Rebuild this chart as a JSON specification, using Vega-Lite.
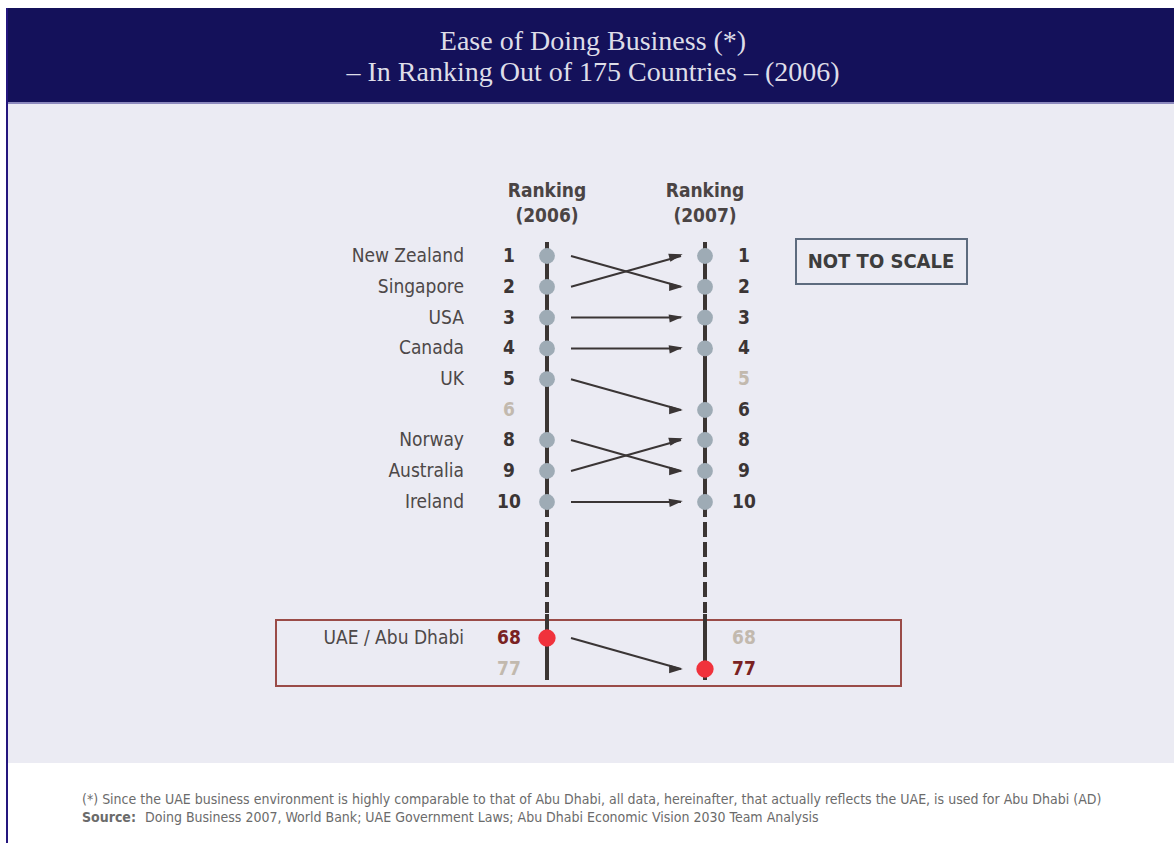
{
  "$schema": "https://vega.github.io/schema/vega-lite/v6.json",
  "width": 1174,
  "height": 843,
  "autosize": {"type": "none"},
  "padding": 0,
  "background": "#ffffff",
  "view": {"stroke": null},
  "config": {"font": "DejaVu Sans Condensed, DejaVu Sans, sans-serif"},
  "resolve": {"scale": {"color": "independent", "size": "independent"}},
  "datasets": {
    "ranks": [
      {"country": "New Zealand", "year": 2006, "rank": 1, "group": "Top 10"},
      {"country": "Singapore", "year": 2006, "rank": 2, "group": "Top 10"},
      {"country": "USA", "year": 2006, "rank": 3, "group": "Top 10"},
      {"country": "Canada", "year": 2006, "rank": 4, "group": "Top 10"},
      {"country": "UK", "year": 2006, "rank": 5, "group": "Top 10"},
      {"country": "", "year": 2006, "rank": 6, "group": "Other"},
      {"country": "Norway", "year": 2006, "rank": 8, "group": "Top 10"},
      {"country": "Australia", "year": 2006, "rank": 9, "group": "Top 10"},
      {"country": "Ireland", "year": 2006, "rank": 10, "group": "Top 10"},
      {"country": "UAE / Abu Dhabi", "year": 2006, "rank": 68, "group": "UAE"},
      {"country": "", "year": 2006, "rank": 77, "group": "Other"},
      {"country": "Singapore", "year": 2007, "rank": 1, "group": "Top 10"},
      {"country": "New Zealand", "year": 2007, "rank": 2, "group": "Top 10"},
      {"country": "USA", "year": 2007, "rank": 3, "group": "Top 10"},
      {"country": "Canada", "year": 2007, "rank": 4, "group": "Top 10"},
      {"country": "", "year": 2007, "rank": 5, "group": "Other"},
      {"country": "UK", "year": 2007, "rank": 6, "group": "Top 10"},
      {"country": "Australia", "year": 2007, "rank": 8, "group": "Top 10"},
      {"country": "Norway", "year": 2007, "rank": 9, "group": "Top 10"},
      {"country": "Ireland", "year": 2007, "rank": 10, "group": "Top 10"},
      {"country": "", "year": 2007, "rank": 68, "group": "Other"},
      {"country": "UAE / Abu Dhabi", "year": 2007, "rank": 77, "group": "UAE"}
    ],
    "moves": [
      {"country": "New Zealand", "r2006": 1, "r2007": 2},
      {"country": "Singapore", "r2006": 2, "r2007": 1},
      {"country": "USA", "r2006": 3, "r2007": 3},
      {"country": "Canada", "r2006": 4, "r2007": 4},
      {"country": "UK", "r2006": 5, "r2007": 6},
      {"country": "Norway", "r2006": 8, "r2007": 9},
      {"country": "Australia", "r2006": 9, "r2007": 8},
      {"country": "Ireland", "r2006": 10, "r2007": 10},
      {"country": "UAE / Abu Dhabi", "r2006": 68, "r2007": 77}
    ],
    "columns": [
      {"year": 2006, "head": "Ranking", "sub": "(2006)"},
      {"year": 2007, "head": "Ranking", "sub": "(2007)"}
    ],
    "one": [{}]
  },
  "layer": [
    {
      "data": {"name": "one"},
      "mark": {"type": "rect", "fill": "#ebebf3"},
      "encoding": {"x": {"value": 7}, "x2": {"value": 1174}, "y": {"value": 102}, "y2": {"value": 763}}
    },
    {
      "data": {"name": "one"},
      "mark": {"type": "rect", "fill": "#14115a"},
      "encoding": {"x": {"value": 6}, "x2": {"value": 1174}, "y": {"value": 8}, "y2": {"value": 102}}
    },
    {
      "data": {"name": "one"},
      "mark": {"type": "rule", "stroke": "#8c89bd", "strokeWidth": 2},
      "encoding": {"x": {"value": 6}, "x2": {"value": 1174}, "y": {"value": 103}}
    },
    {
      "data": {"name": "one"},
      "mark": {"type": "rule", "stroke": "#24167e", "strokeWidth": 2},
      "encoding": {"x": {"value": 7}, "y": {"value": 8}, "y2": {"value": 843}}
    },
    {
      "data": {"name": "one"},
      "mark": {"type": "text", "text": "Ease of Doing Business (*)", "font": "Liberation Serif, serif", "fontSize": 28, "color": "#dedde8", "align": "center", "baseline": "middle"},
      "encoding": {"x": {"value": 593}, "y": {"value": 42}}
    },
    {
      "data": {"name": "one"},
      "mark": {"type": "text", "text": "– In Ranking Out of 175 Countries – (2006)", "font": "Liberation Serif, serif", "fontSize": 28, "color": "#dedde8", "align": "center", "baseline": "middle"},
      "encoding": {"x": {"value": 593}, "y": {"value": 73}}
    },
    {
      "data": {"name": "one"},
      "mark": {"type": "rect", "fill": null, "stroke": "#9a4b47", "strokeWidth": 2},
      "encoding": {"x": {"value": 276}, "x2": {"value": 901}, "y": {"value": 620}, "y2": {"value": 686}}
    },
    {
      "data": {"name": "one"},
      "mark": {"type": "rect", "fill": null, "stroke": "#5d6b7e", "strokeWidth": 2},
      "encoding": {"x": {"value": 796}, "x2": {"value": 967}, "y": {"value": 239}, "y2": {"value": 284}}
    },
    {
      "data": {"name": "one"},
      "mark": {"type": "text", "text": "NOT TO SCALE", "fontSize": 20, "fontWeight": "bold", "color": "#3d3d3d", "align": "center", "baseline": "middle"},
      "encoding": {"x": {"value": 881}, "y": {"value": 262}}
    },
    {
      "data": {"name": "columns"},
      "mark": {"type": "rule", "stroke": "#3b3533", "strokeWidth": 4},
      "encoding": {
        "x": {"field": "year", "type": "quantitative", "scale": {"domain": [2006, 2007], "range": [547, 705]}, "axis": null},
        "y": {"value": 242}, "y2": {"value": 517}
      }
    },
    {
      "data": {"name": "columns"},
      "mark": {"type": "rule", "stroke": "#3b3533", "strokeWidth": 4, "strokeDash": [15, 5], "strokeDashOffset": 0},
      "encoding": {
        "x": {"field": "year", "type": "quantitative", "scale": {"domain": [2006, 2007], "range": [547, 705]}, "axis": null},
        "y": {"value": 522}, "y2": {"value": 613}
      }
    },
    {
      "data": {"name": "columns"},
      "mark": {"type": "rule", "stroke": "#3b3533", "strokeWidth": 4},
      "encoding": {
        "x": {"field": "year", "type": "quantitative", "scale": {"domain": [2006, 2007], "range": [547, 705]}, "axis": null},
        "y": {"value": 614}, "y2": {"value": 680}
      }
    },
    {
      "data": {"name": "columns"},
      "mark": {"type": "text", "fontSize": 19, "fontWeight": "bold", "color": "#4a4444", "align": "center", "baseline": "middle"},
      "encoding": {
        "x": {"field": "year", "type": "quantitative", "scale": {"domain": [2006, 2007], "range": [547, 705]}, "axis": null},
        "y": {"value": 191},
        "text": {"field": "head"}
      }
    },
    {
      "data": {"name": "columns"},
      "mark": {"type": "text", "fontSize": 19, "fontWeight": "bold", "color": "#4a4444", "align": "center", "baseline": "middle"},
      "encoding": {
        "x": {"field": "year", "type": "quantitative", "scale": {"domain": [2006, 2007], "range": [547, 705]}, "axis": null},
        "y": {"value": 216},
        "text": {"field": "sub"}
      }
    },
    {
      "data": {"name": "moves"},
      "mark": {"type": "rule", "stroke": "#3a3535", "strokeWidth": 2, "xOffset": 24, "x2Offset": -24},
      "encoding": {
        "x": {"datum": 2006, "type": "quantitative", "scale": {"domain": [2006, 2007], "range": [547, 705]}, "axis": null},
        "x2": {"datum": 2007},
        "y": {"field": "r2006", "type": "quantitative", "scale": {"domain": [1, 6, 8, 10, 68, 77], "range": [256, 410, 440, 502, 638, 669], "zero": false, "nice": false}, "axis": null},
        "y2": {"field": "r2007"}
      }
    },
    {
      "data": {"name": "moves"},
      "transform": [
        {"calculate": "datum.r2007 > datum.r2006 ? 'down' : (datum.r2007 < datum.r2006 ? 'up' : 'level')", "as": "dir"}
      ],
      "mark": {"type": "point", "shape": "M-1,-0.6L1,0L-1,0.6Z", "filled": true, "color": "#3a3535", "size": 190, "xOffset": -29, "opacity": 1},
      "encoding": {
        "x": {"datum": 2007, "type": "quantitative", "scale": {"domain": [2006, 2007], "range": [547, 705]}, "axis": null},
        "y": {"field": "r2007", "type": "quantitative", "scale": {"domain": [1, 6, 8, 10, 68, 77], "range": [256, 410, 440, 502, 638, 669], "zero": false, "nice": false}, "axis": null},
        "angle": {"field": "dir", "type": "nominal", "scale": {"domain": ["up", "level", "down"], "range": [-15, 0, 15]}, "legend": null}
      }
    },
    {
      "data": {"name": "ranks"},
      "transform": [{"filter": "datum.group != 'Other'"}],
      "mark": {"type": "point", "shape": "circle", "filled": true, "opacity": 1, "strokeWidth": 0},
      "encoding": {
        "x": {"field": "year", "type": "quantitative", "scale": {"domain": [2006, 2007], "range": [547, 705]}, "axis": null},
        "y": {"field": "rank", "type": "quantitative", "scale": {"domain": [1, 6, 8, 10, 68, 77], "range": [256, 410, 440, 502, 638, 669], "zero": false, "nice": false}, "axis": null},
        "color": {"field": "group", "type": "nominal", "scale": {"domain": ["Top 10", "UAE"], "range": ["#9eabb5", "#f0323c"]}, "legend": null},
        "size": {"field": "group", "type": "nominal", "scale": {"domain": ["Top 10", "UAE"], "range": [250, 300]}, "legend": null}
      }
    },
    {
      "data": {"name": "ranks"},
      "transform": [{"filter": "datum.year == 2006 && datum.country != ''"}],
      "mark": {"type": "text", "fontSize": 19, "color": "#4d4848", "align": "right", "baseline": "middle", "dx": -83},
      "encoding": {
        "x": {"field": "year", "type": "quantitative", "scale": {"domain": [2006, 2007], "range": [547, 705]}, "axis": null},
        "y": {"field": "rank", "type": "quantitative", "scale": {"domain": [1, 6, 8, 10, 68, 77], "range": [256, 410, 440, 502, 638, 669], "zero": false, "nice": false}, "axis": null},
        "text": {"field": "country"}
      }
    },
    {
      "data": {"name": "ranks"},
      "transform": [{"filter": "datum.year == 2006"}],
      "mark": {"type": "text", "fontSize": 19, "fontWeight": "bold", "align": "center", "baseline": "middle", "dx": -38},
      "encoding": {
        "x": {"field": "year", "type": "quantitative", "scale": {"domain": [2006, 2007], "range": [547, 705]}, "axis": null},
        "y": {"field": "rank", "type": "quantitative", "scale": {"domain": [1, 6, 8, 10, 68, 77], "range": [256, 410, 440, 502, 638, 669], "zero": false, "nice": false}, "axis": null},
        "text": {"field": "rank"},
        "color": {"field": "group", "type": "nominal", "scale": {"domain": ["Top 10", "UAE", "Other"], "range": ["#3b3535", "#7a2222", "#c2b9ae"]}, "legend": null}
      }
    },
    {
      "data": {"name": "ranks"},
      "transform": [{"filter": "datum.year == 2007"}],
      "mark": {"type": "text", "fontSize": 19, "fontWeight": "bold", "align": "center", "baseline": "middle", "dx": 39},
      "encoding": {
        "x": {"field": "year", "type": "quantitative", "scale": {"domain": [2006, 2007], "range": [547, 705]}, "axis": null},
        "y": {"field": "rank", "type": "quantitative", "scale": {"domain": [1, 6, 8, 10, 68, 77], "range": [256, 410, 440, 502, 638, 669], "zero": false, "nice": false}, "axis": null},
        "text": {"field": "rank"},
        "color": {"field": "group", "type": "nominal", "scale": {"domain": ["Top 10", "UAE", "Other"], "range": ["#3b3535", "#7a2222", "#c2b9ae"]}, "legend": null}
      }
    },
    {
      "data": {"name": "one"},
      "mark": {"type": "text", "text": "(*)  Since the UAE business environment is highly comparable to that of Abu Dhabi, all data, hereinafter, that actually reflects the UAE, is used for Abu Dhabi (AD)", "fontSize": 14, "color": "#6b6b6b", "align": "left", "baseline": "middle"},
      "encoding": {"x": {"value": 82}, "y": {"value": 800}}
    },
    {
      "data": {"name": "one"},
      "mark": {"type": "text", "text": "Source:", "fontSize": 14, "fontWeight": "bold", "color": "#6b6b6b", "align": "left", "baseline": "middle"},
      "encoding": {"x": {"value": 82}, "y": {"value": 818}}
    },
    {
      "data": {"name": "one"},
      "mark": {"type": "text", "text": "Doing Business 2007, World Bank; UAE Government Laws; Abu Dhabi Economic Vision 2030 Team Analysis", "fontSize": 14, "color": "#6b6b6b", "align": "left", "baseline": "middle"},
      "encoding": {"x": {"value": 145}, "y": {"value": 818}}
    }
  ]
}
